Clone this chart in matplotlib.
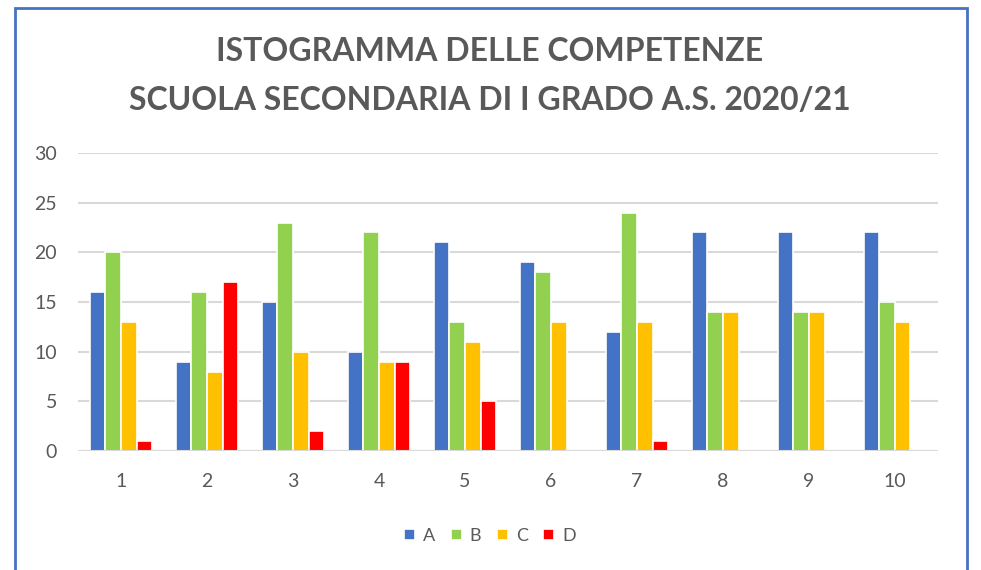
import numpy as np
import matplotlib.pyplot as plt
from matplotlib.patches import Rectangle

# Values
categories = ['1', '2', '3', '4', '5', '6', '7', '8', '9', '10']
series_names = ['A', 'B', 'C', 'D']
a_vals = [16, 9, 15, 10, 21, 19, 12, 22, 22, 22]
b_vals = [20, 16, 23, 22, 13, 18, 24, 14, 14, 15]
c_vals = [13, 8, 10, 9, 11, 13, 13, 14, 14, 13]
d_vals = [1, 17, 2, 9, 5, 0, 1, 0, 0, 0]
colors = ['#4472C4', '#92D050', '#FFC000', '#FF0000']

plt.rcParams['font.family'] = ['Lato', 'DejaVu Sans']

fig = plt.figure(figsize=(9.81, 5.70), dpi=100)
ax = fig.add_axes([0.0795, 0.2088, 0.8765, 0.5228])

x = np.arange(len(categories))
w = 0.182
for i, (vals, col, name) in enumerate(zip([a_vals, b_vals, c_vals, d_vals], colors, series_names)):
    ax.bar(x + (i - 1.5) * w, vals, width=w, color=col, edgecolor='white',
           linewidth=1.2, label=name, zorder=3)

ax.set_xlim(-0.5, len(categories) - 0.5)
ax.set_ylim(0, 30)
ax.set_yticks(range(0, 31, 5))
ax.set_xticks(x)
ax.set_xticklabels(categories)
ax.yaxis.grid(True, color='#D9D9D9', linewidth=1.5, zorder=0)
ax.tick_params(length=0, labelsize=14, colors='#595959')
ax.tick_params(axis='x', pad=16)
ax.tick_params(axis='y', pad=15)
for s in ax.spines.values():
    s.set_visible(False)
ax.axhline(0, color='#D9D9D9', linewidth=1.5, zorder=4)

fig.text(0.4995, 0.909, 'ISTOGRAMMA DELLE COMPETENZE', ha='center', va='center',
         fontsize=23, fontweight='bold', color='#595959')
fig.text(0.4995, 0.824, 'SCUOLA SECONDARIA DI I GRADO A.S. 2020/21', ha='center',
         va='center', fontsize=23, fontweight='bold', color='#595959')

leg = fig.legend(loc='center', bbox_to_anchor=(0.4995, 0.06), ncol=4, frameon=False,
                 fontsize=13, handlelength=0.6, handleheight=0.6, handletextpad=0.45,
                 columnspacing=0.85)
for t in leg.get_texts():
    t.set_color('#595959')

fig.patches.append(Rectangle((15 / 981, -0.02), (967 - 15) / 981, 1 - 8 / 570 + 0.02,
                             transform=fig.transFigure, fill=False,
                             edgecolor='#4472C4', linewidth=2))

fig.savefig('out.png', dpi=100)
